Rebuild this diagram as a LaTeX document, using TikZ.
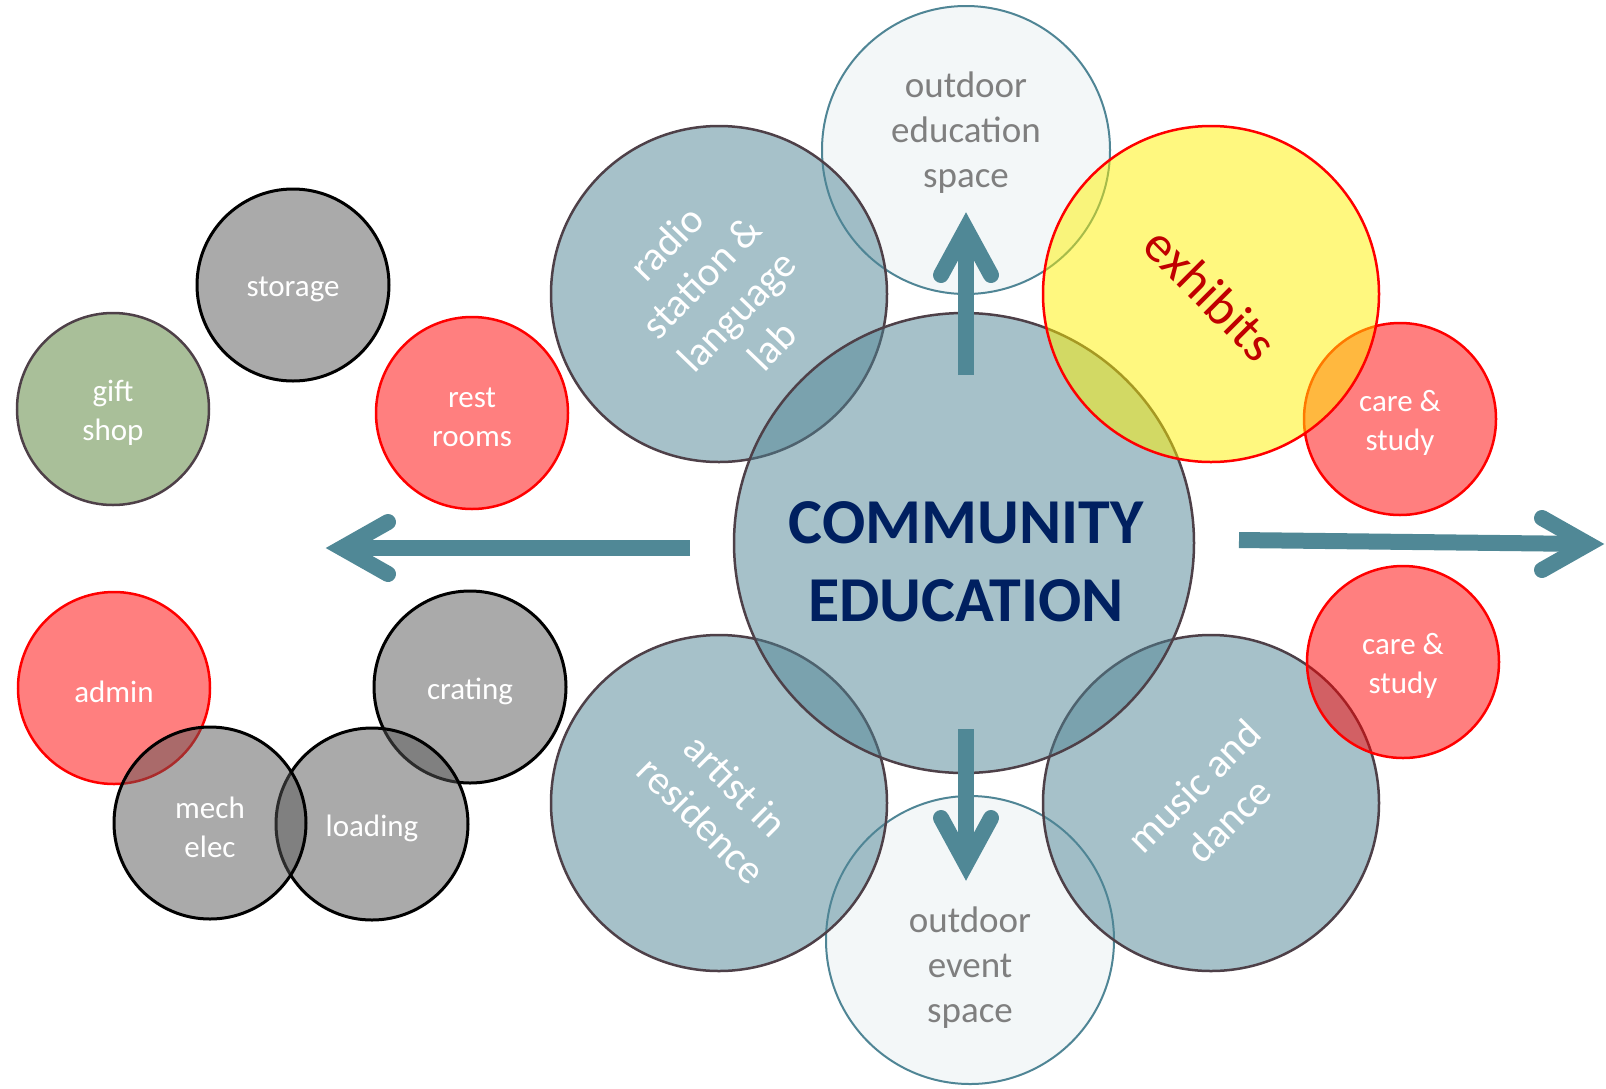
\documentclass[tikz,border=0pt]{standalone}
\usepackage{fontspec}
\setmainfont{Carlito}
\usetikzlibrary{arrows.meta}
\definecolor{tealf}{HTML}{4F8595}
\definecolor{circline}{HTML}{4E4048}
\definecolor{outfill}{HTML}{F3F7F8}
\definecolor{outtext}{HTML}{7F7F7F}
\definecolor{grayf}{HTML}{575757}
\definecolor{giftf}{HTML}{A9BF99}
\definecolor{navy}{HTML}{002060}
\definecolor{exred}{HTML}{C00000}
\definecolor{arrowc}{HTML}{508896}
\newcommand\myfs[2]{\fontsize{#1}{#2}\selectfont}
\begin{document}
\begin{tikzpicture}[x=1pt,y=-1pt,
  bub/.style={circle, inner sep=0pt, text opacity=1},
  tealc/.style={bub, fill=tealf, fill opacity=0.5, draw=circline, line width=2.5pt},
  outc/.style={bub, fill=outfill, draw=tealf, line width=2pt},
  yelc/.style={bub, fill=yellow, fill opacity=0.5, draw=red, line width=2.5pt},
  redc/.style={bub, fill=red, fill opacity=0.5, draw=red, line width=2.5pt},
  grayc/.style={bub, fill=grayf, fill opacity=0.5, draw=black, line width=3pt},
  giftc/.style={bub, fill=giftf, draw=circline, line width=2.5pt},
  lbl/.style={align=center, inner sep=0pt, text=white, font=\myfs{31}{39}, yshift=-4pt},
  rlbl/.style={align=center, inner sep=0pt, text=white, font=\myfs{41}{49}},
  olbl/.style={align=center, inner sep=0pt, text=outtext, font=\myfs{37}{45}},
  arr/.style={draw=arrowc, line width=16pt},
  head/.style={draw=arrowc, line width=16pt, line cap=round, line join=miter}
]
\useasboundingbox (0,0) rectangle (1606,1088);
\fill[white] (0,0) rectangle (1606,1088);

% outdoor spaces (behind)
\node[outc, minimum size=288pt] (oedu) at (966,150) {};
\node[outc, minimum size=288pt] (oevt) at (970,940) {};

% teal circles
\node[tealc, minimum size=336pt] (radio) at (719,294) {};
\node[tealc, minimum size=336pt] (artist) at (719,803) {};
\node[tealc, minimum size=336pt] (music) at (1211,803) {};
\node[tealc, minimum size=460pt] (comm) at (964,543) {};

% care & study (upper one lies under the exhibits circle)
\node[redc, minimum size=192pt] (care1) at (1400,419) {};
\node[redc, minimum size=192pt] (care2) at (1403,662) {};

% exhibits
\node[yelc, minimum size=336pt] (exh) at (1211,294) {};

% left group
\node[giftc, minimum size=192pt] (gift) at (113,409) {};
\node[grayc, minimum size=192pt] (storage) at (293,285) {};
\node[redc, minimum size=192pt] (rest) at (472,413) {};
\node[redc, minimum size=192pt] (admin) at (114,688) {};
\node[grayc, minimum size=192pt] (crating) at (470,687) {};
\node[grayc, minimum size=192pt] (loading) at (372,824) {};
\node[grayc, minimum size=192pt] (mech) at (210,823) {};

% labels
\node[olbl] (oedut) at (966,133) {outdoor\\education\\space};
\node[olbl] (oevtt) at (970,968) {outdoor\\event\\space};
\node[rlbl, rotate=46] (radiot) at (radio) {radio\\station \&\\language\\lab};
\node[rlbl, rotate=-45] (artistt) at (artist) {artist in\\residence};
\node[rlbl, rotate=45] (musict) at (music) {music and\\dance};
\node[align=center, inner sep=0pt, text=exred, font=\myfs{52}{60}, rotate=-45] (exht) at (exh) {exhibits};
\node[align=center, inner sep=0pt, text=navy, font=\bfseries\myfs{64}{78}] (commt) at (966,562) {COMMUNITY\\EDUCATION};
\node[lbl] (care1t) at (care1) {care \&\\study};
\node[lbl] (care2t) at (care2) {care \&\\study};
\node[lbl] (giftt) at (gift) {gift\\shop};
\node[lbl] (storaget) at (storage) {storage};
\node[lbl] (restt) at (rest) {rest\\rooms};
\node[lbl] (admint) at (admin) {admin};
\node[lbl] (cratingt) at (crating) {crating};
\node[lbl] (loadingt) at (loading) {loading};
\node[lbl] (mecht) at (mech) {mech\\elec};

% arrows
\coordinate (lS) at (690,548);
\coordinate (lT) at (342,548);
\coordinate (lA) at (388,522);
\coordinate (lB) at (388,574);
\draw[arr] (lS) -- (lT);
\draw[head] (lA) -- (lT) -- (lB);

\coordinate (rS) at (1239,540);
\coordinate (rT) at (1588,544);
\coordinate (rA) at (1542,518);
\coordinate (rB) at (1542,570);
\draw[arr] (rS) -- (rT);
\draw[head] (rA) -- (rT) -- (rB);

\coordinate (uS) at (966,375);
\coordinate (uT) at (966,229);
\coordinate (uA) at (941,275);
\coordinate (uB) at (991,275);
\draw[arr] (uS) -- (uT);
\draw[head] (uA) -- (uT) -- (uB);

\coordinate (dS) at (966,729);
\coordinate (dT) at (966,864);
\coordinate (dA) at (941,818);
\coordinate (dB) at (991,818);
\draw[arr] (dS) -- (dT);
\draw[head] (dA) -- (dT) -- (dB);
\end{tikzpicture}
\end{document}
